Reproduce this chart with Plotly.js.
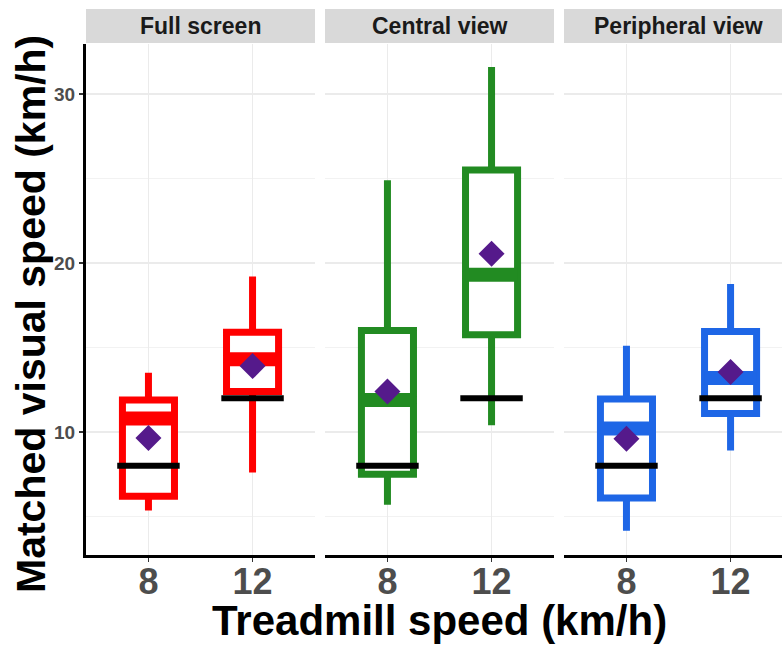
<!DOCTYPE html>
<html>
<head>
<meta charset="utf-8">
<script src="https://cdn.plot.ly/plotly-3.0.1.min.js"></script>
<style>html,body{margin:0;padding:0;background:#fff;}#chart{width:782px;height:645px;}</style>
</head>
<body>
<div id="chart"></div>
<script>
// ---- data ----
var facets = ['Full screen', 'Central view', 'Peripheral view'];
var positions = [1, 2];
var tickLabels = ['8', '12'];
var treadmillSpeed = [8, 12];

var fullQ1 = [6.2, 12.4];
var fullMedian = [10.8, 14.3];
var fullQ3 = [11.9, 15.9];
var fullLow = [5.35, 7.6];
var fullHigh = [13.5, 19.2];
var fullMean = [9.65, 13.9];

var centralQ1 = [7.5, 15.75];
var centralMedian = [11.9, 19.3];
var centralQ3 = [16.0, 25.5];
var centralLow = [5.7, 10.4];
var centralHigh = [24.9, 31.6];
var centralMean = [12.4, 20.55];

var periphQ1 = [6.1, 11.1];
var periphMedian = [10.2, 13.2];
var periphQ3 = [11.95, 15.95];
var periphLow = [4.15, 8.9];
var periphHigh = [15.1, 18.75];
var periphMean = [9.6, 13.55];

var facetColors = ['#FF0000', '#228B22', '#1E66E6'];
var meanColor = '#551A8B';

// ---- build ----
var groups = [
  {q1: fullQ1, med: fullMedian, q3: fullQ3, lo: fullLow, hi: fullHigh, mean: fullMean},
  {q1: centralQ1, med: centralMedian, q3: centralQ3, lo: centralLow, hi: centralHigh, mean: centralMean},
  {q1: periphQ1, med: periphMedian, q3: periphQ3, lo: periphLow, hi: periphHigh, mean: periphMean}
];
var axisIds = ['x', 'x2', 'x3'];
var boxHalf = 0.25, refHalf = 0.30;

function segs(vals, half) {
  var xs = [], ys = [];
  positions.forEach(function (p, i) {
    xs.push(p - half, p + half, null);
    ys.push(vals[i], vals[i], null);
  });
  return {x: xs, y: ys};
}

var traces = [];
groups.forEach(function (g, k) {
  traces.push({
    type: 'box', xaxis: axisIds[k], yaxis: 'y',
    x: positions, q1: g.q1, median: g.med, q3: g.q3,
    lowerfence: g.lo, upperfence: g.hi,
    width: 2 * boxHalf, whiskerwidth: 0, boxpoints: false,
    fillcolor: '#FFFFFF', line: {color: facetColors[k], width: 7},
    hoverinfo: 'skip', showlegend: false
  });
  var m = segs(g.med, boxHalf);
  traces.push({
    type: 'scatter', mode: 'lines', xaxis: axisIds[k], yaxis: 'y',
    x: m.x, y: m.y, line: {color: facetColors[k], width: 14},
    hoverinfo: 'skip', showlegend: false
  });
  var r = segs(treadmillSpeed, refHalf);
  traces.push({
    type: 'scatter', mode: 'lines', xaxis: axisIds[k], yaxis: 'y',
    x: r.x, y: r.y, line: {color: '#000000', width: 6},
    hoverinfo: 'skip', showlegend: false
  });
  traces.push({
    type: 'scatter', mode: 'markers', xaxis: axisIds[k], yaxis: 'y',
    x: positions, y: g.mean,
    marker: {symbol: 'diamond', size: 20, color: meanColor, line: {width: 0}},
    hoverinfo: 'skip', showlegend: false
  });
});

var W = 782, H = 645, L = 86, T = 44, B = 90;
var plotW = W - L, plotH = H - T - B;
function px2x(px) { return (px - L) / plotW; }
function py2y(py) { return (H - B - py) / plotH; }

var domains = [[px2x(86), px2x(315)], [px2x(325), px2x(554)], [px2x(564), 1]];
var ranges = [[0.4, 2.6], [0.4, 2.6], [0.4, 2.494]];

var xFont = {family: 'Liberation Sans, Arial, sans-serif', size: 36, color: '#4D4D4D', weight: 'bold'};
function xAxis(k) {
  return {
    domain: domains[k], range: ranges[k], anchor: 'y',
    tickmode: 'array', tickvals: positions, ticktext: tickLabels,
    tickfont: xFont, ticks: 'outside', ticklen: 4, tickwidth: 1.5, tickcolor: '#333333',
    ticklabelstandoff: -11,
    showgrid: true, gridcolor: '#EBEBEB', gridwidth: 1.5,
    showline: true, linecolor: '#000000', linewidth: 3,
    zeroline: false, fixedrange: true
  };
}

var layout = {
  width: W, height: H,
  margin: {l: L, r: 0, t: T, b: B},
  paper_bgcolor: '#FFFFFF', plot_bgcolor: '#FFFFFF',
  showlegend: false,
  xaxis: xAxis(0), xaxis2: xAxis(1), xaxis3: xAxis(2),
  yaxis: {
    range: [2.72, 32.96], anchor: 'x',
    tickvals: [10, 20, 30], ticktext: ['10', '20', '30'],
    tickfont: {family: 'Liberation Sans, Arial, sans-serif', size: 19, color: '#4D4D4D', weight: 'bold'},
    ticks: 'outside', ticklen: 4, tickwidth: 1.5, tickcolor: '#333333',
    showgrid: true, gridcolor: '#EBEBEB', gridwidth: 1.5,
    minor: {tickvals: [5, 15, 25], showgrid: true, gridcolor: '#F2F2F2', gridwidth: 1, ticks: ''},
    showline: true, linecolor: '#000000', linewidth: 3,
    zeroline: false, fixedrange: true
  },
  shapes: [],
  annotations: []
};

facets.forEach(function (f, k) {
  layout.shapes.push({
    type: 'rect', xref: 'paper', yref: 'paper',
    x0: domains[k][0], x1: k === 2 ? 1.02 : domains[k][1],
    y0: py2y(43), y1: py2y(9),
    fillcolor: '#D9D9D9', line: {width: 0}, layer: 'below'
  });
  var cx = k === 2 ? px2x(564 + 229 / 2) : (domains[k][0] + domains[k][1]) / 2;
  layout.annotations.push({
    xref: 'paper', yref: 'paper', x: cx, y: py2y(26),
    xanchor: 'center', yanchor: 'middle', showarrow: false,
    text: f,
    font: {family: 'Liberation Sans, Arial, sans-serif', size: 23, color: '#1A1A1A', weight: 'bold'}
  });
});

layout.annotations.push({
  xref: 'paper', yref: 'paper', x: px2x(439), y: py2y(621),
  xanchor: 'center', yanchor: 'middle', showarrow: false,
  text: 'Treadmill speed (km/h)',
  font: {family: 'Liberation Sans, Arial, sans-serif', size: 42, color: '#000000', weight: 'bold'}
});
layout.annotations.push({
  xref: 'paper', yref: 'paper', x: px2x(31), y: py2y(314),
  xanchor: 'center', yanchor: 'middle', showarrow: false, textangle: -90,
  text: 'Matched visual speed (km/h)',
  font: {family: 'Liberation Sans, Arial, sans-serif', size: 41, color: '#000000', weight: 'bold'}
});

Plotly.newPlot('chart', traces, layout, {staticPlot: true, displayModeBar: false});
</script>
</body>
</html>
